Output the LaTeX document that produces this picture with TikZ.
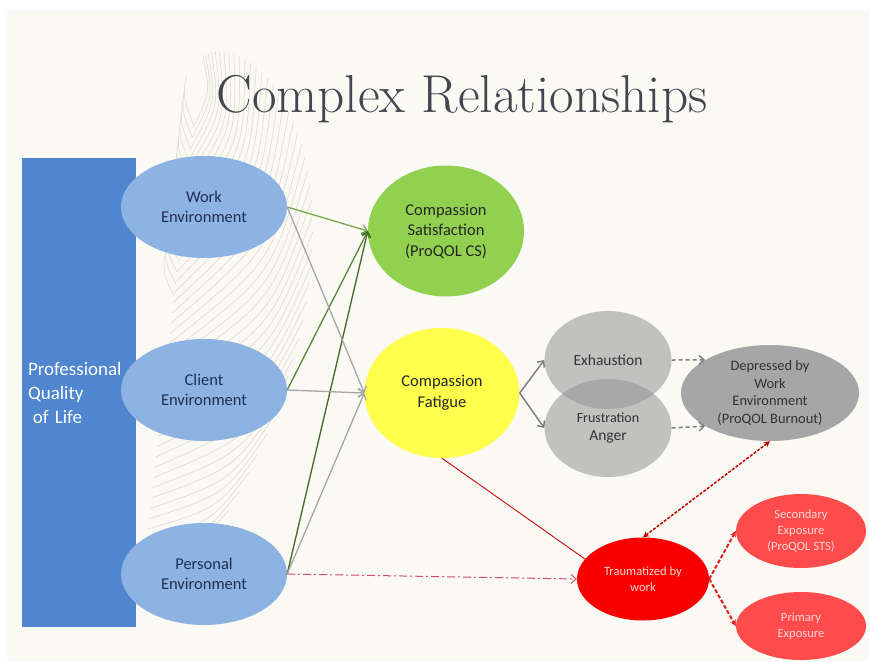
\documentclass[tikz,border=0pt]{standalone}
\usepackage{fontspec}
\newfontfamily\calibri{Carlito}
\usetikzlibrary{shapes.geometric,arrows.meta,calc}

\definecolor{slidebg}{HTML}{FAF9F4}
\definecolor{featherc}{HTML}{E0DDD2}
\definecolor{titlec}{HTML}{45454F}
\definecolor{qolblue}{HTML}{4F86CF}
\definecolor{envblue}{HTML}{8DB3E2}
\definecolor{navytext}{HTML}{1F3054}
\definecolor{csgreen}{HTML}{92D050}
\definecolor{cfyellow}{HTML}{FFFF4D}
\definecolor{greyfill}{HTML}{969696}
\definecolor{depgrey}{HTML}{A6A6A6}
\definecolor{traumared}{HTML}{F80000}
\definecolor{exposred}{HTML}{FE4C4C}
\definecolor{pinktext}{HTML}{FFD5D5}
\definecolor{tealline}{HTML}{7FA8B2}
\definecolor{greenA}{HTML}{7BA84A}
\definecolor{greenB}{HTML}{558A35}
\definecolor{greenC}{HTML}{3F6A22}
\definecolor{greyline}{HTML}{A6A6A6}
\definecolor{darkgreyline}{HTML}{7F7F7F}
\definecolor{darkred}{HTML}{C00000}
\definecolor{dashred}{HTML}{E02020}
\definecolor{dotred}{HTML}{D05060}

\pgfdeclarelayer{back}
\pgfsetlayers{back,main}

\tikzset{
  blob/.style={ellipse, inner sep=0pt, align=center},
  envnode/.style={blob, fill=envblue, minimum width=166pt, minimum height=102pt,
    text=navytext, font=\calibri\fontsize{16.5}{20}\selectfont},
  greynode/.style={blob, fill=greyfill, fill opacity=0.56, text opacity=1,
    minimum width=127pt, minimum height=98pt, text=black!80,
    font=\calibri\fontsize{15.5}{18}\selectfont},
  rednode/.style={blob, text=pinktext, font=\calibri\fontsize{12.6}{16}\selectfont},
  featherline/.style={featherc, line width=0.7pt},
  barb/.style={-{Straight Barb[length=5pt,width=9pt]}, line width=1.3pt},
  redtip/.style={-{Stealth[length=6pt,width=6pt]}},
}

\begin{document}
\begin{tikzpicture}[x=1pt,y=-1pt]
\useasboundingbox (0,0) rectangle (869,661);
\fill[white] (0,0) rectangle (869,661);
\fill[slidebg] (7,10) rectangle (869,661);

% feather drawn faintly behind the diagram
\foreach \k in {0,...,44} {
  \pgfmathsetmacro\t{0.04+\k*0.021}
  \pgfmathsetmacro\sx{140+55*\t}
  \pgfmathsetmacro\sy{600-490*\t}
  \pgfmathsetmacro\len{50+190*sin(180*\t)}
  \pgfmathsetmacro\ang{26+58*\t}
  \pgfmathsetmacro\ex{\sx+\len*cos(\ang)}
  \pgfmathsetmacro\ey{\sy-\len*sin(\ang)}
  \pgfmathsetmacro\cx{\sx+0.55*\len*cos(\ang-18)}
  \pgfmathsetmacro\cy{\sy-0.55*\len*sin(\ang-18)}
  \draw[featherline] (\sx,\sy) .. controls (\cx,\cy) .. (\ex,\ey);
}
\foreach \k in {0,...,14} {
  \pgfmathsetmacro\t{0.62+\k*0.025}
  \pgfmathsetmacro\sx{140+55*\t}
  \pgfmathsetmacro\sy{600-490*\t}
  \pgfmathsetmacro\len{25+25*\t}
  \pgfmathsetmacro\ang{98+15*(1-\t)}
  \pgfmathsetmacro\ex{\sx+\len*cos(\ang)}
  \pgfmathsetmacro\ey{\sy-\len*sin(\ang)}
  \pgfmathsetmacro\cx{\sx+0.6*\len*cos(\ang+12)}
  \pgfmathsetmacro\cy{\sy-0.6*\len*sin(\ang+12)}
  \draw[featherline] (\sx,\sy) .. controls (\cx,\cy) .. (\ex,\ey);
}

% title
\node[anchor=base, text=titlec, font=\fontsize{53.3}{64}\selectfont, inner sep=0pt]
  (title) at (462,112) {Complex Relationships};

% left column
\node[rectangle, fill=qolblue, minimum width=114pt, minimum height=469pt,
  inner xsep=6pt, text width=102pt, align=left, text=white,
  font=\calibri\fontsize{19}{24}\selectfont] (qol) at (79,392.5)
  {Professional\\Quality\\\hspace{0.25em}of Life};

% source ellipses
\node[envnode] (work) at (204,207) {Work\\Environment};
\node[envnode] (client) at (204,390) {Client\\Environment};
\node[envnode] (personal) at (204,574) {Personal\\Environment};

% outcome nodes
\node[blob, fill=csgreen, minimum width=156pt, minimum height=131pt,
  text=black!85, font=\calibri\fontsize{16.5}{20.5}\selectfont] (cs) at (446,231)
  {Compassion\\Satisfaction\\(ProQOL CS)};
\node[blob, fill=cfyellow, minimum width=155pt, minimum height=130pt,
  text=black!85, font=\calibri\fontsize{16.5}{21}\selectfont] (cf) at (442,393)
  {Compassion\\Fatigue};

\node[greynode] (exh) at (608,360) {Exhaustion};
\node[greynode] (frus) at (608,428)
  {{\fontsize{14}{17}\selectfont Frustration}\\Anger};
\node[blob, fill=depgrey, minimum width=178pt, minimum height=96pt,
  text=black!80, font=\calibri\fontsize{14.4}{17.7}\selectfont] (dep) at (770,393)
  {Depressed by\\Work\\Environment\\(ProQOL Burnout)};

\node[rednode, fill=traumared, minimum width=132pt, minimum height=83pt]
  (trauma) at (643,579) {Traumatized by\\work};
\node[rednode, fill=exposred, minimum width=130pt, minimum height=74pt]
  (sec) at (801,531) {Secondary\\Exposure\\(ProQOL STS)};
\node[rednode, fill=exposred, minimum width=130pt, minimum height=68pt]
  (prim) at (801,626) {Primary\\Exposure};

% horizontal rule running behind the satisfaction circle
\coordinate (ruleend) at (849,218);
\begin{pgfonlayer}{back}
  \draw[tealline, line width=1.8pt] (work.-7.7) -- (work.-7.7 -| ruleend);
\end{pgfonlayer}

% environment -> compassion satisfaction
\draw[barb, greenA] (work.east) -- (cs.west);
\draw[barb, greenB] (client.east) -- (cs.west);
\draw[barb, greenC] (personal.east) -- (cs.west);

% environment -> compassion fatigue
\draw[barb, greyline] (work.east) -- (cf.west);
\draw[barb, greyline] (client.east) -- (cf.west);
\draw[barb, greyline] (personal.east) -- (cf.west);

% fatigue branches
\draw[barb, darkgreyline, line width=1.5pt] (cf.east) -- (exh.west);
\draw[barb, darkgreyline, line width=1.5pt] (cf.east) -- (frus.west);
\draw[barb, darkgreyline, line width=1.5pt, dash pattern=on 4pt off 3pt]
  (exh.east) -- (dep.153);
\draw[barb, darkgreyline, line width=1.5pt, dash pattern=on 4pt off 3pt]
  (frus.east) -- (dep.207);

% trauma links
\draw[dashred!90!black, line width=1pt] (cf.south) -- (trauma.161);
\draw[dotred, line width=1pt, dash pattern=on 8pt off 3pt on 2pt off 3pt,
  -{Straight Barb[length=5pt,width=9pt]}] (personal.east) -- (trauma.west);
\draw[darkred, line width=1.5pt, dash pattern=on 3pt off 1.5pt,
  {Stealth[length=6pt,width=6pt]}-{Stealth[length=6pt,width=6pt]}]
  (trauma.north) -- (dep.south);
\draw[redtip, dashred, line width=2pt, dash pattern=on 4pt off 2pt]
  (trauma.east) -- (sec.west);
\draw[redtip, dashred, line width=2pt, dash pattern=on 4pt off 2pt]
  (trauma.east) -- (prim.west);
\end{tikzpicture}
\end{document}
